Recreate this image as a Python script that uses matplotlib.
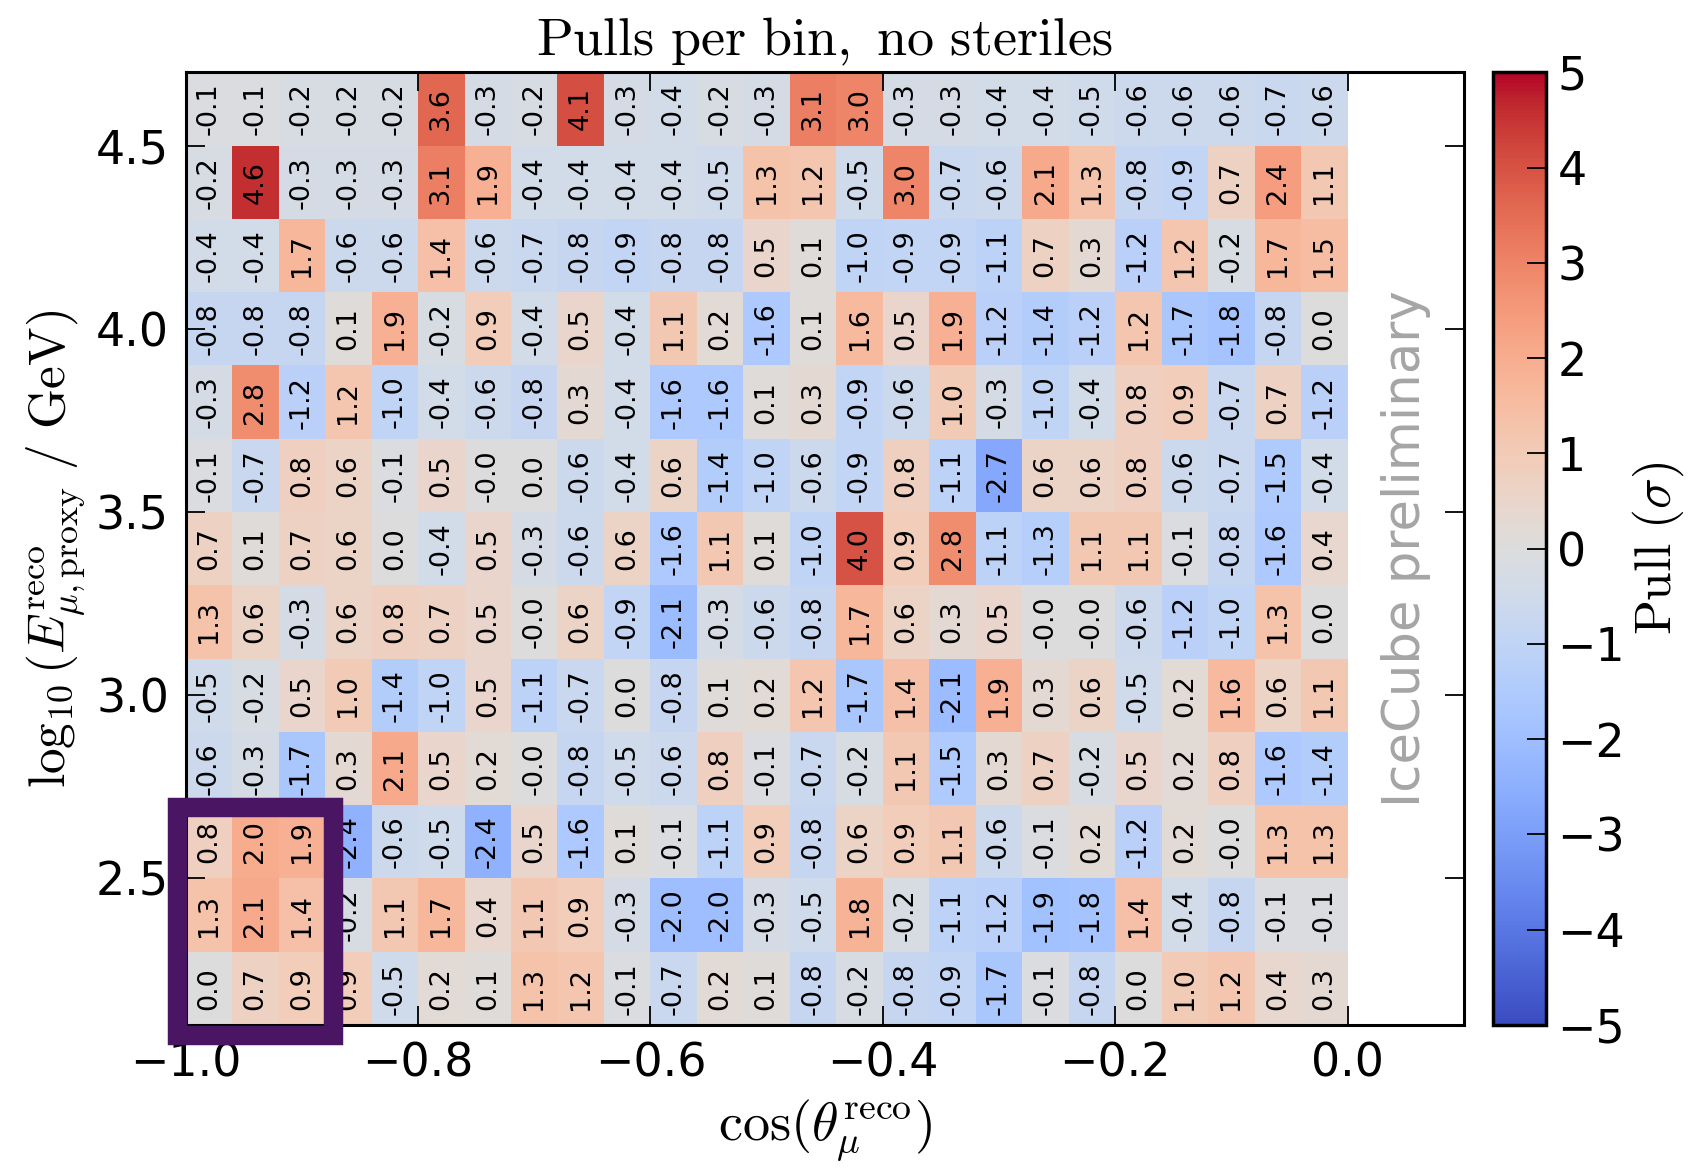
import numpy as np
import matplotlib
matplotlib.use("Agg")
import matplotlib.pyplot as plt
from matplotlib.patches import Rectangle

# ---- data ----
cos_edges = np.round(np.linspace(-1.0, 0.0, 26), 3)       # cos(theta) bin edges
loge_edges = np.round(np.linspace(2.1, 4.7, 14), 3)        # log10(E) bin edges

# pulls, rows from bottom (2.1-2.3) to top (4.5-4.7), 25 cos bins each
row01 = [0.0, 0.7, 0.9, 0.9, -0.5, 0.2, 0.1, 1.3, 1.2, -0.1, -0.7, 0.2, 0.1, -0.8, -0.2, -0.8, -0.9, -1.7, -0.1, -0.8, 0.0, 1.0, 1.2, 0.4, 0.3]
row02 = [1.3, 2.1, 1.4, -0.2, 1.1, 1.7, 0.4, 1.1, 0.9, -0.3, -2.0, -2.0, -0.3, -0.5, 1.8, -0.2, -1.1, -1.2, -1.9, -1.8, 1.4, -0.4, -0.8, -0.1, -0.1]
row03 = [0.8, 2.0, 1.9, -2.4, -0.6, -0.5, -2.4, 0.5, -1.6, 0.1, -0.1, -1.1, 0.9, -0.8, 0.6, 0.9, 1.1, -0.6, -0.1, 0.2, -1.2, 0.2, -0.0, 1.3, 1.3]
row04 = [-0.6, -0.3, -1.7, 0.3, 2.1, 0.5, 0.2, -0.0, -0.8, -0.5, -0.6, 0.8, -0.1, -0.7, -0.2, 1.1, -1.5, 0.3, 0.7, -0.2, 0.5, 0.2, 0.8, -1.6, -1.4]
row05 = [-0.5, -0.2, 0.5, 1.0, -1.4, -1.0, 0.5, -1.1, -0.7, 0.0, -0.8, 0.1, 0.2, 1.2, -1.7, 1.4, -2.1, 1.9, 0.3, 0.6, -0.5, 0.2, 1.6, 0.6, 1.1]
row06 = [1.3, 0.6, -0.3, 0.6, 0.8, 0.7, 0.5, -0.0, 0.6, -0.9, -2.1, -0.3, -0.6, -0.8, 1.7, 0.6, 0.3, 0.5, -0.0, -0.0, -0.6, -1.2, -1.0, 1.3, 0.0]
row07 = [0.7, 0.1, 0.7, 0.6, 0.0, -0.4, 0.5, -0.3, -0.6, 0.6, -1.6, 1.1, 0.1, -1.0, 4.0, 0.9, 2.8, -1.1, -1.3, 1.1, 1.1, -0.1, -0.8, -1.6, 0.4]
row08 = [-0.1, -0.7, 0.8, 0.6, -0.1, 0.5, -0.0, 0.0, -0.6, -0.4, 0.6, -1.4, -1.0, -0.6, -0.9, 0.8, -1.1, -2.7, 0.6, 0.6, 0.8, -0.6, -0.7, -1.5, -0.4]
row09 = [-0.3, 2.8, -1.2, 1.2, -1.0, -0.4, -0.6, -0.8, 0.3, -0.4, -1.6, -1.6, 0.1, 0.3, -0.9, -0.6, 1.0, -0.3, -1.0, -0.4, 0.8, 0.9, -0.7, 0.7, -1.2]
row10 = [-0.8, -0.8, -0.8, 0.1, 1.9, -0.2, 0.9, -0.4, 0.5, -0.4, 1.1, 0.2, -1.6, 0.1, 1.6, 0.5, 1.9, -1.2, -1.4, -1.2, 1.2, -1.7, -1.8, -0.8, 0.0]
row11 = [-0.4, -0.4, 1.7, -0.6, -0.6, 1.4, -0.6, -0.7, -0.8, -0.9, -0.8, -0.8, 0.5, 0.1, -1.0, -0.9, -0.9, -1.1, 0.7, 0.3, -1.2, 1.2, -0.2, 1.7, 1.5]
row12 = [-0.2, 4.6, -0.3, -0.3, -0.3, 3.1, 1.9, -0.4, -0.4, -0.4, -0.4, -0.5, 1.3, 1.2, -0.5, 3.0, -0.7, -0.6, 2.1, 1.3, -0.8, -0.9, 0.7, 2.4, 1.1]
row13 = [-0.1, -0.1, -0.2, -0.2, -0.2, 3.6, -0.3, -0.2, 4.1, -0.3, -0.4, -0.2, -0.3, 3.1, 3.0, -0.3, -0.3, -0.4, -0.4, -0.5, -0.6, -0.6, -0.6, -0.7, -0.6]

pulls = np.array([row01, row02, row03, row04, row05, row06, row07,
                  row08, row09, row10, row11, row12, row13])

xticks = [-1.0, -0.8, -0.6, -0.4, -0.2, 0.0]
yticks = [2.5, 3.0, 3.5, 4.0, 4.5]
cbar_ticks = [-5, -4, -3, -2, -1, 0, 1, 2, 3, 4, 5]

# ---- style ----
plt.rcParams['font.family'] = ['DejaVu Sans']
plt.rcParams['mathtext.fontset'] = 'cm'

fig = plt.figure(figsize=(16.92, 11.70), dpi=100)
ax = fig.add_axes([0.1097, 0.1239, 0.7555, 0.8143])
cax = fig.add_axes([0.8824, 0.1239, 0.0315, 0.8143])

mesh = ax.pcolormesh(cos_edges, loge_edges, pulls, cmap='coolwarm',
                     vmin=-5, vmax=5, shading='flat')

xc = 0.5 * (cos_edges[:-1] + cos_edges[1:])
yc = 0.5 * (loge_edges[:-1] + loge_edges[1:])
for i, yv in enumerate(yc):
    for j, xv in enumerate(xc):
        ax.text(xv, yv, f"{pulls[i, j]:.1f}", rotation=90, ha='center',
                va='center', fontsize=19.5, color='black')

ax.set_xlim(-1.0, 0.1)
ax.set_ylim(2.1, 4.7)
ax.set_xticks(xticks)
ax.set_yticks(yticks)
ax.set_xticklabels([f"{t:.1f}".replace('-', '\u2212') for t in xticks])
ax.set_yticklabels([f"{t:.1f}" for t in yticks])
ax.tick_params(direction='in', top=True, right=True, length=14, width=1.3,
               labelsize=33, pad=12)
for sp in ax.spines.values():
    sp.set_linewidth(2.2)

ax.set_title(r'$\mathrm{Pulls\ per\ bin,\ no\ steriles}$', fontsize=39, pad=12)
ax.set_xlabel(r'$\cos(\theta^{\mathrm{reco}}_{\mu})$', fontsize=39, labelpad=8)
ax.set_ylabel(r'$\log_{10}(E^{\mathrm{reco}}_{\mu,\mathrm{proxy}}\ /\ \mathrm{GeV})$',
              fontsize=37, labelpad=6)

ax.text(0.05, 3.40, 'IceCube preliminary', rotation=90, ha='center',
        va='center', fontsize=37, color='#a5a5a5')

cb = fig.colorbar(mesh, cax=cax, ticks=cbar_ticks)
cb.ax.tick_params(direction='in', length=14, width=1.3, labelsize=33, pad=8)
cb.outline.set_linewidth(2.5)
cb.set_label(r'$\mathrm{Pull}\ (\sigma)$', fontsize=37, labelpad=4)

# highlight box around the lowest-left bins
box = Rectangle((-1.007, 2.074), 0.134, 0.622, fill=False,
                edgecolor='#4a1563', linewidth=14, clip_on=False,
                zorder=10, joinstyle='miter')
ax.add_patch(box)

fig.savefig('out.png', dpi=100)
